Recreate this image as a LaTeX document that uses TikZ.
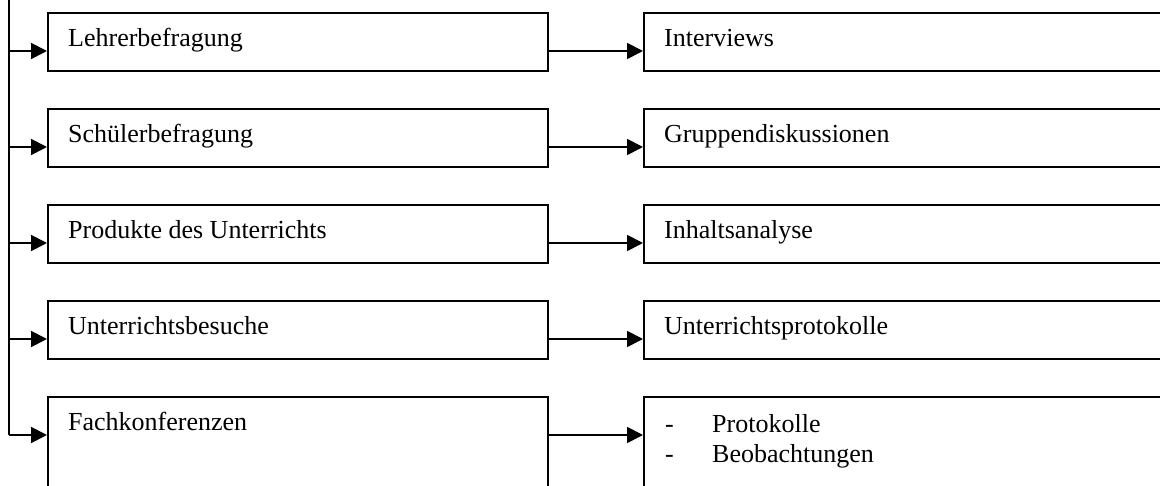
\documentclass[tikz,border=0pt]{standalone}
\usepackage{fontspec}
\setmainfont{Liberation Serif}
\usetikzlibrary{arrows.meta,calc}
\tikzset{
  box/.style={draw=black, line width=1.8pt, rectangle, inner sep=0pt, anchor=north west},
  lbox/.style={box, minimum width=500pt, minimum height=58pt},
  rbox/.style={box, minimum width=540pt, minimum height=58pt},
  lbl/.style={anchor=base west, inner sep=0pt, font=\fontsize{26pt}{31pt}\selectfont},
  conn/.style={line width=1.8pt, -{Triangle[length=16pt,width=16pt]}},
  trunk/.style={line width=1.8pt}
}
\begin{document}
\begin{tikzpicture}[x=1pt,y=1pt]
\useasboundingbox (0,0) rectangle (1160,-486);
\clip (0,0) rectangle (1160,-486);
% boxes
\node[lbox] (l1) at (47,-12) {};
\node[lbox] (l2) at (47,-108) {};
\node[lbox] (l3) at (47,-204) {};
\node[lbox] (l4) at (47,-300) {};
\node[box, minimum width=500pt, minimum height=120pt] (l5) at (47,-396) {};
\node[rbox] (r1) at (643,-12) {};
\node[rbox] (r2) at (643,-108) {};
\node[rbox] (r3) at (643,-204) {};
\node[rbox] (r4) at (643,-300) {};
\node[box, minimum width=540pt, minimum height=120pt] (r5) at (643,-396) {};
% labels
\node[lbl] (tl1) at ($(l1.north west)+(21,-34.7)$) {Lehrerbefragung};
\node[lbl] (tl2) at ($(l2.north west)+(21,-34.7)$) {Schülerbefragung};
\node[lbl] (tl3) at ($(l3.north west)+(21,-34.7)$) {Produkte des Unterrichts};
\node[lbl] (tl4) at ($(l4.north west)+(21,-34.7)$) {Unterrichtsbesuche};
\node[lbl] (tl5) at ($(l5.north west)+(21,-34.7)$) {Fachkonferenzen};
\node[lbl] (tr1) at ($(r1.north west)+(21,-34.7)$) {Interviews};
\node[lbl] (tr2) at ($(r2.north west)+(21,-34.7)$) {Gruppendiskussionen};
\node[lbl] (tr3) at ($(r3.north west)+(21,-34.7)$) {Inhaltsanalyse};
\node[lbl] (tr4) at ($(r4.north west)+(21,-34.7)$) {Unterrichtsprotokolle};
\node[lbl] (d1) at ($(r5.north west)+(22,-36)$) {-};
\node[lbl] (tr5a) at ($(r5.north west)+(69,-36)$) {Protokolle};
\node[lbl] (d2) at ($(r5.north west)+(22,-66)$) {-};
\node[lbl] (tr5b) at ($(r5.north west)+(69,-66)$) {Beobachtungen};
% trunk
\coordinate (top) at (9,0);
\foreach \i in {1,...,5} {
  \coordinate (t\i) at ($(l\i.north west)+(0,-39)$);
  \coordinate (tr\i) at (top |- t\i);
}
\draw[trunk] (top) -- (tr5);
\foreach \i in {1,...,5} {
  \draw[conn] (tr\i) -- (t\i);
  \draw[conn] ($(l\i.north east)+(0,-39)$) -- ($(r\i.north west)+(0,-39)$);
}
\end{tikzpicture}
\end{document}
